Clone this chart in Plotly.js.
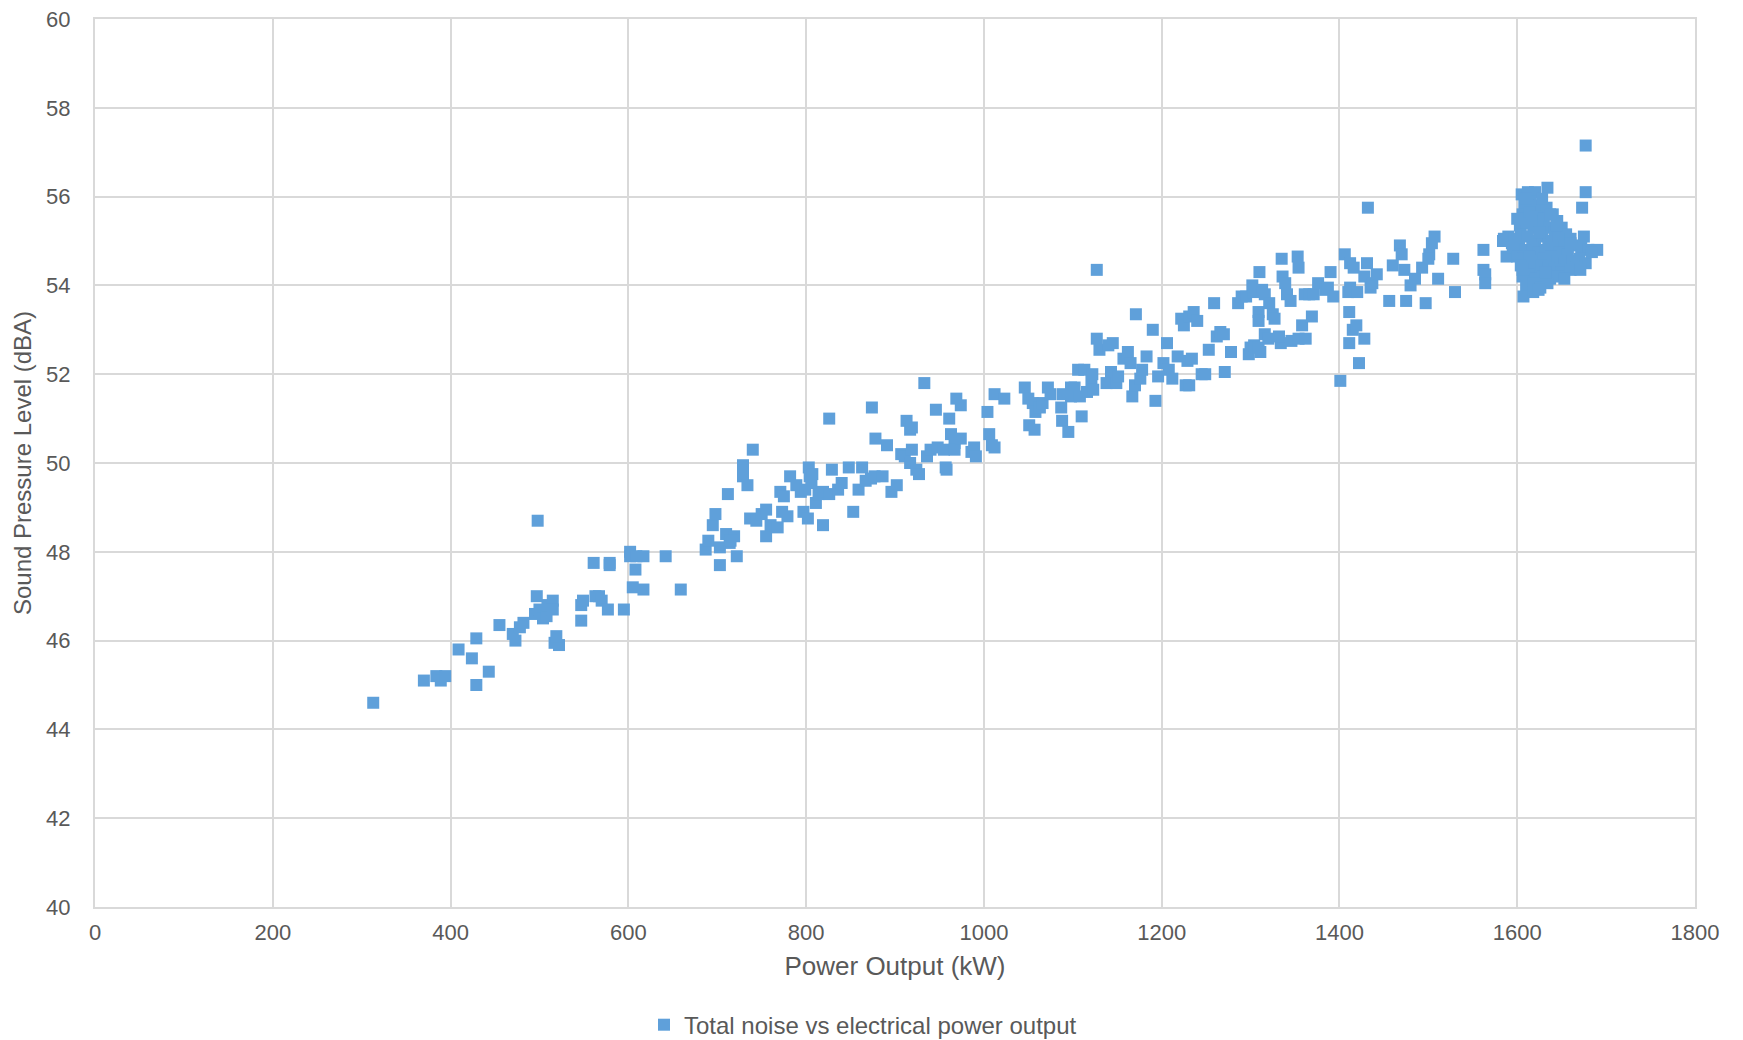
<!DOCTYPE html>
<html>
<head>
<meta charset="utf-8">
<script src="https://cdn.plot.ly/plotly-3.0.1.min.js"></script>
<style>
  html, body { margin: 0; padding: 0; background: #ffffff; }
  #chart { width: 1743px; height: 1040px; }
</style>
</head>
<body>
<div id="chart"></div>
<script>
// Measured operating points: electrical power output (kW) and total sound pressure level (dBA)
const powerKW = [
  313, 370, 384, 389, 394, 409, 424, 429, 429, 443,
  455, 470, 473, 478, 482, 498, 497, 495, 500, 504,
  508, 509, 515, 515, 517, 522, 519, 547, 547, 549,
  561, 563, 567, 570, 579, 579, 577, 595, 602, 602,
  609, 605, 608, 617, 617, 642, 659,
  687, 690, 695, 698, 703, 703, 710, 712, 714, 719,
  715, 722, 729, 729, 734, 740, 737, 744, 750, 755,
  755, 760, 768, 771, 775, 773, 779, 782, 789, 797,
  794, 799, 803, 804, 807, 806, 802, 811, 814, 819,
  819, 826, 829, 826, 836, 840, 848, 853, 859, 863,
  867, 873, 874, 878, 877, 886, 891, 896, 902, 907,
  911, 913, 917, 917, 919, 919, 924, 927, 933, 936,
  940, 946, 948, 955, 957, 958, 961, 963, 967, 967,
  969, 974, 974, 986, 989, 991, 1004, 1006, 1009, 1012,
  1012, 1023, 1046, 1050, 1055, 1051, 1058, 1057, 1063, 1066,
  1072, 1075, 1087, 1088, 1089, 1095, 1098, 1102, 1098, 1106,
  1108, 1110, 1116, 1113, 1122, 1121, 1123, 1127, 1130, 1127,
  1140, 1145, 1143, 1138, 1149, 1151, 1157, 1162, 1165, 1167,
  1170, 1171, 1176, 1178, 1183, 1190, 1193, 1196, 1202, 1208,
  1206, 1212, 1218, 1222, 1225, 1227, 1231, 1229, 1234, 1231,
  1236, 1240, 1245, 1249, 1253, 1259, 1262, 1266, 1270, 1271,
  1278, 1286, 1290, 1295, 1298, 1300, 1304, 1302, 1303, 1309,
  1309, 1310, 1311, 1309, 1313, 1316, 1316, 1320, 1321, 1325,
  1327, 1334, 1332, 1335, 1336, 1339, 1341, 1345, 1346, 1353,
  1354, 1354, 1362, 1358, 1361, 1366, 1371, 1369, 1376, 1384,
  1387, 1390, 1393, 1401, 1406, 1410, 1412, 1411, 1411, 1415,
  1412, 1416, 1419, 1420, 1422, 1428, 1428, 1431, 1432, 1435,
  1437, 1442, 1456, 1460, 1468, 1470, 1473, 1475, 1480, 1485,
  1493, 1497, 1501, 1500, 1504, 1507, 1511, 1528, 1530, 1562,
  1562, 1564, 1564, 1585, 1588, 1594,
  1605, 1612, 1620, 1634, 1608, 1615, 1625, 1633, 1640, 1606,
  1614, 1622, 1630, 1645, 1650, 1603, 1610, 1618, 1626, 1636,
  1642, 1655, 1660, 1590, 1584, 1597, 1604, 1612, 1620, 1628,
  1635, 1646, 1652, 1665, 1672, 1680, 1690, 1595, 1602, 1609,
  1617, 1624, 1632, 1640, 1648, 1657, 1600, 1607, 1614, 1622,
  1630, 1638, 1645, 1653, 1662, 1670, 1677, 1604, 1611, 1619,
  1627, 1635, 1642, 1650, 1660, 1667, 1606, 1613, 1621, 1629,
  1637, 1645, 1610, 1618, 1626, 1634, 1607, 1618, 1624, 1609,
  1628, 1637, 1616, 1644, 1625, 1660, 1632, 1653, 1600, 1606,
  1677, 1677, 1673, 1675, 1671, 1684
];
const splDBA = [
  44.6, 45.1, 45.2, 45.1, 45.2, 45.8, 45.6, 46.05, 45.0, 45.3,
  46.35, 46.15, 46.0, 46.3, 46.4, 48.7, 47.0, 46.6, 46.7, 46.5,
  46.55, 46.8, 46.9, 46.7, 45.95, 45.9, 46.1, 46.45, 46.8, 46.9,
  47.75, 47.0, 47.0, 46.9, 47.75, 47.7, 46.7, 46.7, 48.0, 47.9,
  47.9, 47.2, 47.6, 47.9, 47.15, 47.9, 47.15,
  48.05, 48.25, 48.6, 48.85, 48.1, 47.7, 48.4, 49.3, 48.2, 48.35,
  48.25, 47.9, 49.7, 49.95, 49.5, 50.3, 48.75, 48.7, 48.85, 48.35,
  48.95, 48.6, 48.55, 49.35, 49.25, 48.9, 48.8, 49.7, 49.5, 48.9,
  49.35, 49.4, 49.9, 49.7, 49.75, 49.55, 48.75, 49.1, 49.3, 49.35,
  48.6, 51.0, 49.85, 49.3, 49.4, 49.55, 49.9, 48.9, 49.4, 49.9,
  49.6, 49.65, 51.25, 50.55, 49.7, 49.7, 50.4, 49.35, 49.5, 50.2,
  50.15, 50.95, 50.0, 50.75, 50.8, 50.3, 49.85, 49.75, 51.8, 50.15,
  50.3, 51.2, 50.35, 50.3, 49.9, 49.85, 51.0, 50.65, 50.45, 50.3,
  51.45, 51.3, 50.55, 50.25, 50.35, 50.15, 51.15, 50.65, 50.4, 50.35,
  51.55, 51.45, 51.7, 51.45, 51.35, 50.85, 51.15, 50.75, 51.25, 51.35,
  51.7, 51.55, 51.25, 50.95, 51.55, 50.7, 51.7, 51.7, 51.5, 52.1,
  51.5, 51.05, 51.6, 52.1, 52.0, 51.85, 51.65, 52.8, 52.55, 54.35,
  52.65, 52.7, 52.05, 51.8, 51.8, 51.95, 52.35, 52.5, 52.25, 51.5,
  51.75, 53.35, 51.9, 52.1, 52.4, 53.0, 51.4, 51.95, 52.25, 52.1,
  52.7, 51.9, 52.4, 53.25, 53.1, 51.75, 51.75, 52.3, 52.35, 53.3,
  53.4, 53.2, 52.0, 52.0, 52.55, 53.6, 52.85, 52.95, 52.9, 52.05,
  52.5, 53.6, 53.75, 53.75, 52.45, 52.6, 52.65, 54.0, 53.85, 53.4,
  53.2, 54.3, 52.5, 52.6, 53.9, 53.8, 52.9, 52.8, 53.6, 53.35,
  53.25, 52.7, 52.85, 54.6, 54.2, 54.05, 53.8, 53.65, 52.75, 54.65,
  54.4, 52.8, 52.8, 53.1, 53.8, 53.8, 53.8, 53.3, 54.05, 53.9,
  53.95, 54.3, 53.75, 51.85, 54.7, 53.85, 53.95, 53.4, 52.7, 53.0,
  54.5, 54.4, 53.1, 53.85, 52.25, 52.8, 54.2, 54.5, 55.75, 53.95,
  54.05, 54.25, 53.65, 54.45, 54.9, 54.7, 54.35, 53.65, 54.0, 54.15,
  54.4, 53.6, 54.7, 54.6, 54.95, 55.1, 54.15, 54.6, 53.85, 54.8,
  54.35, 54.25, 54.05, 55.05, 54.65, 54.95,
  56.05, 56.1, 56.1, 56.2, 55.85, 55.9, 55.8, 55.75, 55.6, 55.6,
  55.65, 55.55, 55.5, 55.45, 55.3, 55.35, 55.4, 55.3, 55.35, 55.3,
  55.2, 55.15, 55.05, 55.1, 55.0, 55.05, 55.15, 55.1, 55.0, 55.1,
  55.0, 55.05, 54.9, 54.9, 54.85, 54.8, 54.8, 54.85, 54.9, 54.8,
  54.85, 54.75, 54.8, 54.85, 54.75, 54.7, 54.65, 54.6, 54.65, 54.55,
  54.6, 54.65, 54.55, 54.5, 54.55, 54.6, 54.5, 54.45, 54.4, 54.35,
  54.45, 54.4, 54.35, 54.3, 54.35, 54.4, 54.2, 54.25, 54.15, 54.2,
  54.15, 54.2, 54.0, 54.05, 53.95, 54.05, 53.75, 53.85, 53.9, 55.95,
  55.95, 55.6, 55.45, 55.35, 55.2, 54.95, 54.3, 54.15, 55.5, 54.35,
  57.15, 56.1, 55.75, 55.1, 54.35, 54.75
];

// Axis ticks and labels
const xTickVals = [0, 200, 400, 600, 800, 1000, 1200, 1400, 1600, 1800];
const yTickVals = [40, 42, 44, 46, 48, 50, 52, 54, 56, 58, 60];
const seriesName = 'Total noise vs electrical power output';
const xTitle = 'Power Output (kW)';
const yTitle = 'Sound Pressure Level (dBA)';

const textColor = '#595959';
const gridColor = '#d9d9d9';
const fontFamily = '"Liberation Sans", Arial, sans-serif';

const trace = {
  type: 'scatter',
  mode: 'markers',
  name: seriesName,
  x: powerKW,
  y: splDBA,
  marker: {
    symbol: 'square',
    size: 12,
    color: '#5FA0DA',
    line: { width: 0 }
  },
  showlegend: true
};

const layout = {
  width: 1743,
  height: 1040,
  paper_bgcolor: '#ffffff',
  plot_bgcolor: '#ffffff',
  font: { family: fontFamily, color: textColor, size: 20 },
  margin: { l: 95, r: 48, t: 19, b: 133, autoexpand: false },
  showlegend: true,
  legend: {
    orientation: 'h',
    x: 0.48,
    xanchor: 'center',
    y: -0.133,
    yanchor: 'middle',
    font: { size: 24, color: textColor, family: fontFamily },
    itemsizing: 'constant'
  },
  xaxis: {
    range: [0, 1800],
    tickvals: xTickVals,
    ticktext: xTickVals.map(String),
    showgrid: true,
    gridcolor: gridColor,
    gridwidth: 2,
    zeroline: false,
    showline: true,
    linecolor: gridColor,
    linewidth: 2,
    mirror: true,
    ticks: '',
    ticklabelstandoff: 5,
    tickfont: { size: 22, color: textColor },
    automargin: false,
    title: { text: xTitle, font: { size: 26, color: textColor }, standoff: 12 }
  },
  yaxis: {
    range: [40, 60],
    tickvals: yTickVals,
    ticktext: yTickVals.map(String),
    showgrid: true,
    gridcolor: gridColor,
    gridwidth: 2,
    zeroline: false,
    showline: true,
    linecolor: gridColor,
    linewidth: 2,
    mirror: true,
    ticks: '',
    ticklabelstandoff: 18,
    tickfont: { size: 22, color: textColor },
    automargin: false,
    title: { text: yTitle, font: { size: 24, color: textColor }, standoff: 8 }
  }
};

Plotly.newPlot('chart', [trace], layout, { displayModeBar: false, staticPlot: true });
</script>
</body>
</html>
